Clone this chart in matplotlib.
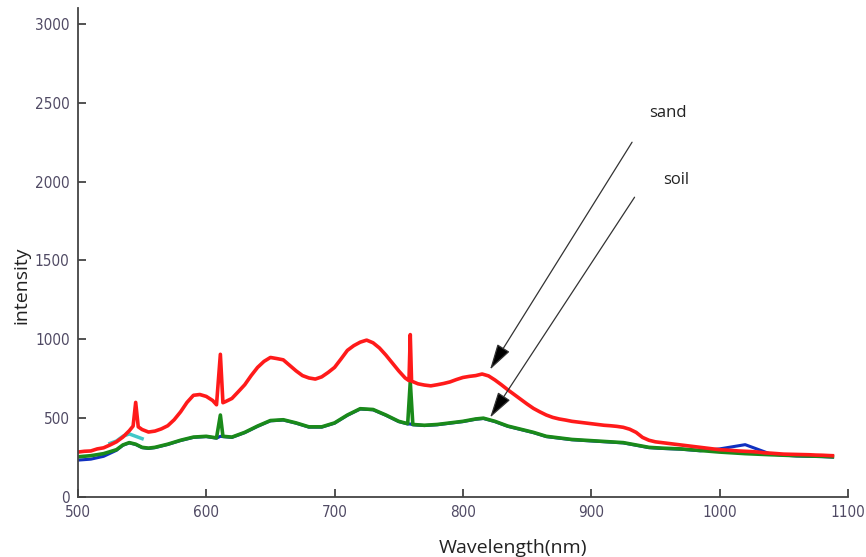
import matplotlib.pyplot as plt

wl_sand = [500, 505, 510, 515, 520, 525, 530, 535, 540, 543, 545, 547, 550, 555, 560, 565, 570, 575, 580,
           585, 590, 595, 600, 605, 608, 611, 613, 615, 620, 625, 630, 635, 640, 645, 650, 655, 660,
           665, 670, 675, 680, 685, 690, 695, 700, 705, 710, 715, 720, 725, 730, 735, 740, 745, 750,
           755, 758, 759, 760, 765, 770, 775, 780, 785, 790, 795, 800, 805, 810, 815, 820, 825, 830,
           835, 840, 845, 850, 855, 860, 865, 870, 875, 880, 885, 890, 895, 900, 905, 910, 915, 920,
           925, 930, 935, 940, 945, 950, 955, 960, 965, 970, 975, 980, 985, 990, 995, 1000, 1005,
           1010, 1015, 1020, 1025, 1030, 1035, 1040, 1045, 1050, 1055, 1060, 1065, 1070, 1075, 1080,
           1085, 1088]
i_sand = [285, 290, 292, 305, 312, 330, 350, 380, 420, 450, 600, 445, 428, 412, 418, 432, 452, 490, 540,
          600, 645, 650, 638, 612, 585, 905, 598, 605, 625, 668, 712, 770, 822, 860, 885, 878, 870,
          835, 800, 770, 755, 748, 762, 790, 822, 875, 930, 960, 982, 995, 978, 945, 900, 850, 800,
          755, 738, 1030, 735, 718, 710, 705, 712, 720, 730, 745, 758, 765, 770, 780, 768, 742, 712,
          680, 650, 620, 590, 562, 540, 520, 505, 495, 488, 480, 475, 470, 465, 460, 455, 452, 448,
          442, 430, 410, 378, 360, 350, 345, 340, 335, 330, 325, 320, 315, 310, 305, 300, 298,
          295, 292, 290, 288, 285, 280, 278, 275, 272, 271, 270, 269, 268, 266, 265,
          263, 262]

wl_soil = [500, 510, 520, 530, 535, 540, 545, 550, 555, 560, 570, 580, 590, 600, 608, 611, 613,
           620, 630, 640, 650, 660, 670, 680, 690, 700, 710, 720, 730, 740, 750, 757, 759, 761,
           770, 780, 790, 800, 810, 816, 825, 835, 845, 855, 865, 875, 885, 895, 905, 915, 925,
           935, 945, 955, 970, 985, 1000, 1020, 1040, 1060, 1080, 1088]
i_soil = [255, 262, 275, 300, 330, 345, 335, 315, 310, 315, 335, 360, 380, 385, 375, 520, 385,
          380, 410, 450, 485, 490, 470, 445, 445, 470, 520, 560, 555, 520, 480, 465, 730, 460,
          455, 460, 470, 480, 495, 500, 480, 450, 430, 410, 385, 375, 365, 360, 355, 350, 345,
          330, 315, 310, 305, 295, 285, 275, 268, 262, 258, 255]

# Serie azul (casi oculta bajo la verde), mismas longitudes de onda
i_blue = [234, 240, 258, 296, 328, 343, 333, 313, 308, 313, 333, 358, 378, 383, 373, 385, 383,
          378, 408, 448, 483, 488, 468, 443, 443, 468, 518, 558, 553, 518, 478, 463, 463, 458,
          453, 458, 468, 478, 493, 498, 478, 448, 428, 408, 383, 373, 363, 358, 353, 348, 343,
          328, 313, 308, 303, 293, 305, 332, 272, 260, 256, 253]

wl_cyan = [525, 530, 535, 540, 545, 550]
i_cyan = [340, 355, 385, 400, 385, 370]

fig = plt.figure(figsize=(8.66, 5.57), dpi=100)
ax = fig.add_axes([0.090, 0.1077, 0.889, 0.8776])

ax.plot(wl_soil, i_blue, color='#1030c0', lw=2.2)
ax.plot(wl_cyan, i_cyan, color='#40c8c8', lw=2.5)
ax.plot(wl_soil, i_soil, color='#1a8a1a', lw=2.6)
ax.plot(wl_sand, i_sand, color='#ff1a1a', lw=2.6)

# Flechas de las etiquetas
flecha = dict(arrowstyle='-|>,head_length=0.9,head_width=0.25', color='#555555', lw=0.9,
              mutation_scale=18, fc='black', ec='#333333')
ax.annotate('', xy=(820, 793), xytext=(933, 2265), arrowprops=flecha)
ax.annotate('', xy=(820, 489), xytext=(935, 1916), arrowprops=flecha)
ax.text(960, 2436, 'sand', fontsize=12, family='Open Sans', color='#222222', ha='center', va='center')
ax.text(966, 2011, 'soil', fontsize=12, family='Open Sans', color='#222222', ha='center', va='center')

ax.set_xlim(500, 1100)
ax.set_ylim(0, 3100)
ax.set_xticks(range(500, 1101, 100))
ax.set_yticks(range(0, 3001, 500))
ax.spines['top'].set_visible(False)
ax.spines['right'].set_visible(False)
for s in ['left', 'bottom']:
    ax.spines[s].set_color('#444444')
    ax.spines[s].set_linewidth(1.3)
ax.tick_params(direction='in', length=6, width=1.3, color='#444444', labelcolor='#504a64',
               labelsize=11, pad=6)
for lab in ax.get_xticklabels() + ax.get_yticklabels():
    lab.set_fontstretch('condensed')
    lab.set_family('DejaVu Sans')

fig.text(22 / 866, 1 - 285 / 557, 'intensity', rotation=90, fontsize=14, family='Open Sans',
         color='#222222', ha='center', va='center')
fig.text(513 / 866, 1 - 548 / 557, 'Wavelength(nm)', fontsize=14, family='Open Sans',
         color='#222222', ha='center', va='center')

plt.savefig('out.png', dpi=100)
